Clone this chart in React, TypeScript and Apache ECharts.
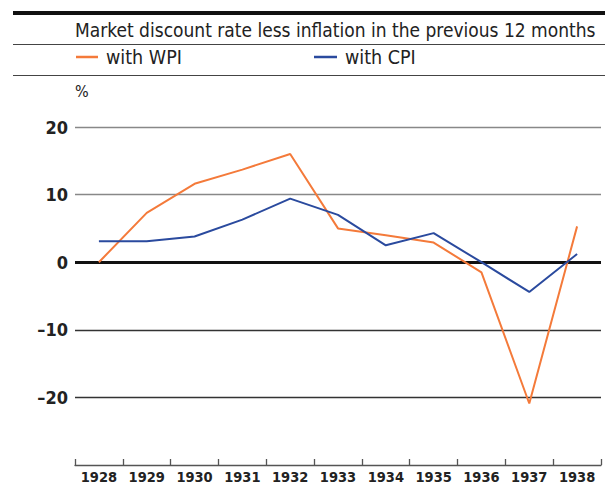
import React, { useEffect, useRef } from "react";
import * as echarts from "echarts";

const years = ["1928", "1929", "1930", "1931", "1932", "1933", "1934", "1935", "1936", "1937", "1938"];
const wpi = [0, 7.3, 11.6, 13.7, 16.0, 5.0, 4.0, 2.9, -1.5, -20.9, 5.3];
const cpi = [3.1, 3.1, 3.8, 6.3, 9.4, 7.0, 2.5, 4.3, 0, -4.4, 1.2];
const title = "Market discount rate less inflation in the previous 12 months";
const unit = "%";

const FONT = "'DejaVu Sans Condensed', 'DejaVu Sans', sans-serif";
const ORANGE = "#F47A3A";
const BLUE = "#2A4A9E";

export default function App() {
  const ref = useRef<HTMLDivElement>(null);
  useEffect(() => {
    if (!ref.current) return;
    const chart = echarts.init(ref.current, undefined, { renderer: "svg" });
    const legendText = { fontSize: 19.5, color: "#222", fontFamily: FONT, padding: [0, 0, 0, 3] };
    chart.setOption({
      animation: false,
      textStyle: { fontFamily: FONT },
      grid: { left: 75, right: 4, top: 127, bottom: 17, containLabel: false },
      legend: [
        {
          data: [{ name: "with WPI" }],
          left: 76,
          top: 47,
          padding: 0,
          icon: "rect",
          itemWidth: 22,
          itemHeight: 2.5,
          textStyle: legendText,
        },
        {
          data: [{ name: "with CPI" }],
          left: 314,
          top: 47,
          padding: 0,
          icon: "rect",
          itemWidth: 23,
          itemHeight: 2.5,
          textStyle: legendText,
        },
      ],
      graphic: [
        { type: "rect", shape: { x: 13, y: 11, width: 592, height: 4 }, style: { fill: "#111" } },
        { type: "text", x: 75, y: 20, style: { text: title, fontSize: 19, fontFamily: FONT, fill: "#222" } },
        { type: "rect", shape: { x: 13, y: 44, width: 592, height: 1 }, style: { fill: "#444" } },
        { type: "rect", shape: { x: 13, y: 75, width: 592, height: 1 }, style: { fill: "#444" } },
        { type: "text", x: 75, y: 83, style: { text: unit, fontSize: 16, fontFamily: FONT, fill: "#222" } },
      ],
      xAxis: {
        type: "category",
        data: years,
        boundaryGap: true,
        axisLine: { onZero: false, lineStyle: { color: "#555", width: 1.3 } },
        axisTick: { show: true, inside: true, length: 6, interval: 0, lineStyle: { color: "#555", width: 1.3 } },
        axisLabel: { fontSize: 14.5, fontWeight: "bold", color: "#222", margin: 4, interval: 0, fontFamily: FONT },
        splitLine: { show: false },
      },
      yAxis: {
        type: "value",
        min: -30,
        max: 20,
        interval: 10,
        axisLine: { show: false },
        axisTick: { show: false },
        axisLabel: {
          fontSize: 18,
          fontWeight: "bold",
          color: "#222",
          margin: 7,
          fontFamily: FONT,
          formatter: (v: number) => (v === -30 ? "" : v < 0 ? "\u2013" + Math.abs(v) : String(v)),
        },
        splitLine: {
          show: true,
          lineStyle: { color: ["transparent", "#333", "#333", "transparent", "#888", "#888"], width: 1.3 },
        },
      },
      series: [
        {
          name: "with WPI",
          type: "line",
          data: wpi,
          symbol: "none",
          color: ORANGE,
          lineStyle: { color: ORANGE, width: 2 },
          z: 3,
          markLine: {
            silent: true,
            symbol: "none",
            label: { show: false },
            lineStyle: { color: "#111", width: 3, type: "solid" },
            data: [{ yAxis: 0 }],
            z: 1,
          },
        },
        {
          name: "with CPI",
          type: "line",
          data: cpi,
          symbol: "none",
          color: BLUE,
          lineStyle: { color: BLUE, width: 2 },
          z: 4,
        },
      ],
    });
    return () => chart.dispose();
  }, []);
  return <div ref={ref} style={{ position: "absolute", left: 0, top: 0, width: 605, height: 484 }} />;
}
